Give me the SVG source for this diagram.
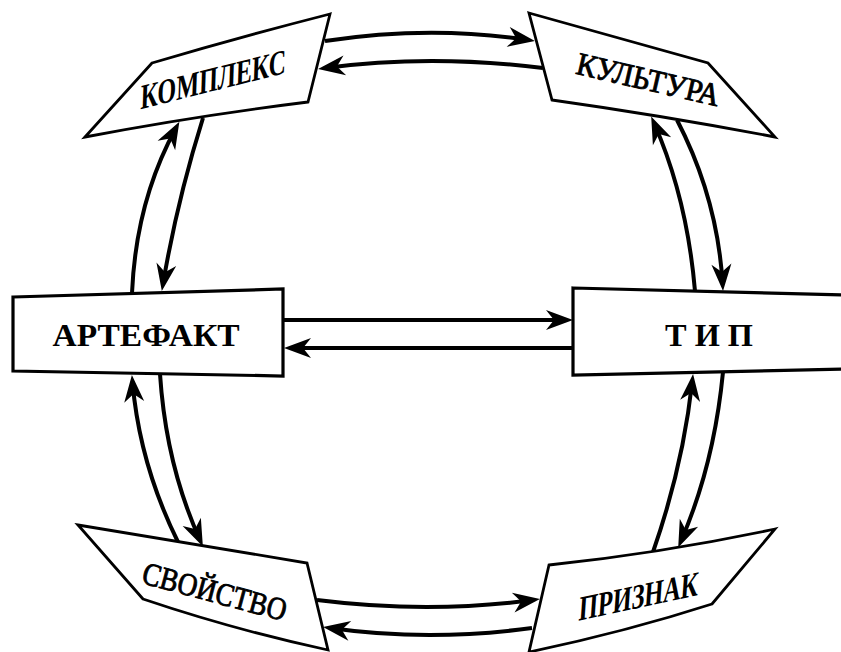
<svg xmlns="http://www.w3.org/2000/svg" width="841" height="652" viewBox="0 0 841 652">
<style>
.shape{fill:#fff;stroke:#000;stroke-width:2.8;stroke-linejoin:miter}
.box{fill:#fff;stroke:#000;stroke-width:3.2}
.con{fill:none;stroke:#000;stroke-width:4}
.arr{marker-end:url(#ah)}
text{font-family:"Liberation Serif","DejaVu Serif",serif;fill:#000;text-anchor:middle}
.it{font-weight:bold}
.rg{font-weight:normal;stroke:#000;stroke-width:0.9}
.bd{font-weight:bold}
</style>
<defs>
<marker id="ah" markerUnits="userSpaceOnUse" viewBox="-22 -11 30 22" markerWidth="30" markerHeight="22" refX="0" refY="0" orient="auto">
<path d="M7,0 L-20,-10 L-12,0 L-20,10 Z" fill="#000"/>
</marker>
</defs>
<rect width="841" height="652" fill="#fff"/>
<g id="connectors">
<path class="con arr" d="M325,41 Q430,25 528,40"/>
<path class="con arr" d="M543,68 Q430,54 325,68"/>
<path class="con arr" d="M283,320 L566,320"/>
<path class="con arr" d="M573,348 L291,348"/>
<path class="con arr" d="M317,600 Q428,614 533,600"/>
<path class="con arr" d="M532,628 Q428,642 330,628"/>
<path class="con arr" d="M132,293 Q136,201 176,128"/>
<path class="con arr" d="M203,118 Q177,201 163,284"/>
<path class="con arr" d="M695,291 Q687,198 654,123"/>
<path class="con arr" d="M677,120 Q717.5,198 722.6,284"/>
<path class="con arr" d="M178,542 Q139.5,464 132.5,382"/>
<path class="con arr" d="M160,374 Q166,465 200,540"/>
<path class="con arr" d="M653,552 Q683,466 692.3,381"/>
<path class="con arr" d="M723,372 Q714,465 681,541"/>
</g>
<g id="kompleks">
<path class="shape" d="M85,137 L152,63 Q240,37 330,14 L308,102 Q195,116 85,137 Z"/>
<text class="it" x="0" y="0" font-size="34" textLength="150" lengthAdjust="spacingAndGlyphs" transform="translate(213,91) rotate(-14) skewX(-16)">КОМПЛЕКС</text>
</g>
<g id="kultura">
<path class="shape" d="M529,13 L708,63 L775,137 Q665,116 552,100 Z"/>
<text class="rg" x="0" y="0" font-size="32" textLength="146" lengthAdjust="spacingAndGlyphs" transform="translate(646,90) rotate(13)">КУЛЬТУРА</text>
</g>
<g id="artefakt">
<path class="box" d="M13,297 L283,289 L283,376 L13,371 Z"/>
<text class="bd" x="146" y="346" font-size="32" textLength="187" lengthAdjust="spacingAndGlyphs">АРТЕФАКТ</text>
</g>
<g id="tip">
<path class="box" d="M573,288 L845,295 L845,369 L573,375 Z"/>
<text class="bd" x="709" y="346" font-size="32" textLength="88" lengthAdjust="spacingAndGlyphs">Т И П</text>
</g>
<g id="svoystvo">
<path class="shape" d="M78,525 L307,563 L328,650 Q235,630 143,599 Z"/>
<text class="rg" x="0" y="0" font-size="32" textLength="148" lengthAdjust="spacingAndGlyphs" transform="translate(212,602) rotate(15)">СВОЙСТВО</text>
</g>
<g id="priznak">
<path class="shape" d="M775,529 Q662,553 549,565 L529,652 Q625,632 712,604 Z"/>
<text class="it" x="0" y="0" font-size="34" textLength="122" lengthAdjust="spacingAndGlyphs" transform="translate(638,608) rotate(-12) skewX(-16)">ПРИЗНАК</text>
</g>
</svg>
